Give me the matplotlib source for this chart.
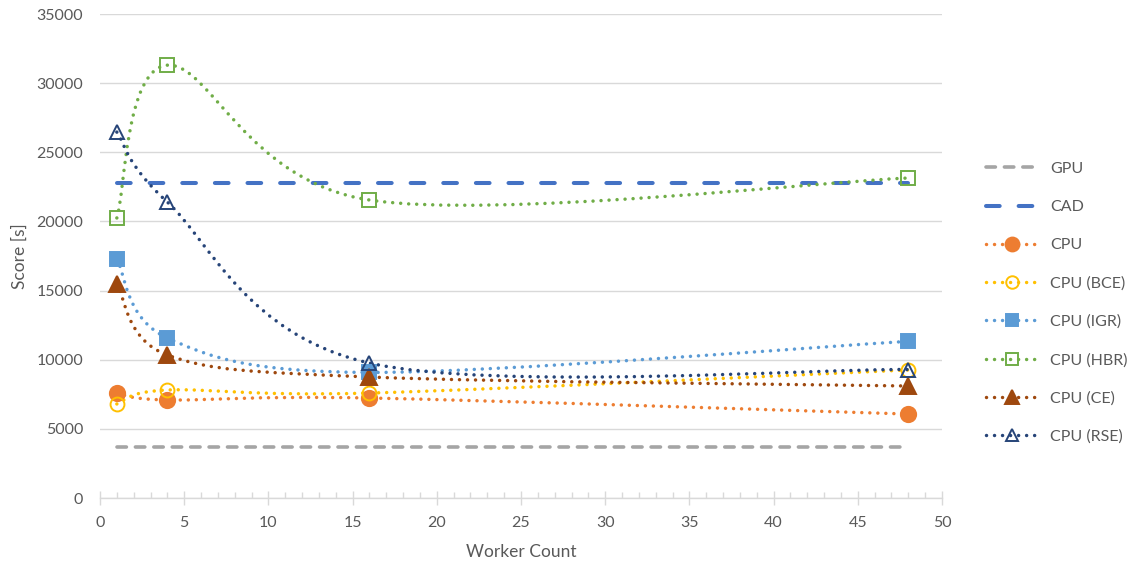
import numpy as np
import matplotlib.pyplot as plt
from matplotlib.path import Path
from matplotlib.patches import PathPatch
from matplotlib.ticker import MultipleLocator
from matplotlib.lines import Line2D

workers = [1, 4, 16, 48]

gpu_score = 3700
cad_score = 22750

cpu = [7590, 7090, 7230, 6070]
cpu_bce = [6800, 7810, 7590, 9260]
cpu_igr = [17280, 11570, 9080, 11330]
cpu_hbr = [20250, 31300, 21550, 23140]
cpu_ce = [15470, 10340, 8750, 8100]
cpu_rse = [26460, 21400, 9760, 9290]

TEXT = '#595959'
GRID = '#D9D9D9'

series = [
    ('CPU', cpu, '#ED7D31', 'o', True, 11),
    ('CPU (BCE)', cpu_bce, '#FFC000', 'o', False, 10),
    ('CPU (IGR)', cpu_igr, '#5B9BD5', 's', True, 10),
    ('CPU (HBR)', cpu_hbr, '#70AD47', 's', False, 10),
    ('CPU (CE)', cpu_ce, '#9E480E', '^', True, 11),
    ('CPU (RSE)', cpu_rse, '#264478', '^', False, 10),
]


def smooth_path(xs, ys):
    # Catmull-Rom style bezier through the points (like a spreadsheet "smoothed line")
    pts = np.column_stack([xs, ys]).astype(float)
    n = len(pts)
    verts = [pts[0]]
    codes = [Path.MOVETO]
    for i in range(n - 1):
        p0 = pts[max(i - 1, 0)]
        p1 = pts[i]
        p2 = pts[i + 1]
        p3 = pts[min(i + 2, n - 1)]
        c1 = p1 + (p2 - p0) / 6.0
        c2 = p2 - (p3 - p1) / 6.0
        verts += [c1, c2, p2]
        codes += [Path.CURVE4] * 3
    return Path(verts, codes)


plt.rcParams['font.family'] = ['Lato', 'DejaVu Sans']

fig = plt.figure(figsize=(11.28, 5.65), dpi=100)
ax = fig.add_axes([100 / 1128, 67 / 565, 842 / 1128, 484 / 565])

DOT_LW = 2.5
dots = (0, (0.01, 2.3))
gpu_style = dict(color='#A5A5A5', lw=2.6, dashes=(2.6, 2.5), dash_capstyle='round')
cad_style = dict(color='#4472C4', lw=2.9, dashes=(3.4, 4.7), dash_capstyle='round')

ax.plot([workers[0], workers[-1]], [gpu_score] * 2, zorder=3, **gpu_style)
ax.plot([workers[0], workers[-1]], [cad_score] * 2, zorder=3, **cad_style)

for name, vals, col, mk, filled, ms in series:
    patch = PathPatch(smooth_path(workers, vals), facecolor='none', edgecolor=col,
                      lw=DOT_LW, linestyle=dots, capstyle='round', zorder=4)
    ax.add_patch(patch)
    ax.plot(workers, vals, linestyle='none', marker=mk, ms=ms,
            markerfacecolor=col if filled else 'none', markeredgecolor=col,
            markeredgewidth=1.4, zorder=5)

ax.set_xlim(0, 50)
ax.set_ylim(0, 35000)
ax.xaxis.set_major_locator(MultipleLocator(5))
ax.xaxis.set_minor_locator(MultipleLocator(1))
ax.yaxis.set_major_locator(MultipleLocator(5000))

ax.grid(axis='y', color=GRID, lw=1.0, zorder=0)
for s in ['top', 'right', 'left']:
    ax.spines[s].set_visible(False)
ax.spines['bottom'].set_color(GRID)
ax.spines['bottom'].set_linewidth(1.0)

ax.tick_params(axis='x', which='major', direction='inout', length=10, width=1,
               color=GRID, labelcolor=TEXT, labelsize=11.5, pad=8)
ax.tick_params(axis='x', which='minor', direction='in', length=4, width=1, color=GRID)
ax.tick_params(axis='y', length=0, labelcolor=TEXT, labelsize=11.5, pad=12)

ax.set_xlabel('Worker Count', color=TEXT, fontsize=12.5, labelpad=10)
ax.set_ylabel('Score [s]', color=TEXT, fontsize=12.5, labelpad=6)

handles = [Line2D([], [], **gpu_style), Line2D([], [], **cad_style)]
labels = ['GPU', 'CAD']
for name, vals, col, mk, filled, ms in series:
    handles.append(Line2D([], [], color=col, lw=DOT_LW, linestyle=dots,
                          dash_capstyle='round', marker=mk, ms=ms - 1,
                          markerfacecolor=col if filled else 'none',
                          markeredgecolor=col, markeredgewidth=1.4))
    labels.append(name)

leg = fig.legend(handles, labels, loc='center left', bbox_to_anchor=(972 / 1128, 0.464),
                 frameon=False, fontsize=11.5, labelcolor=TEXT, handlelength=3.2,
                 handletextpad=0.8, labelspacing=1.5)

fig.savefig('out.png', dpi=100)
